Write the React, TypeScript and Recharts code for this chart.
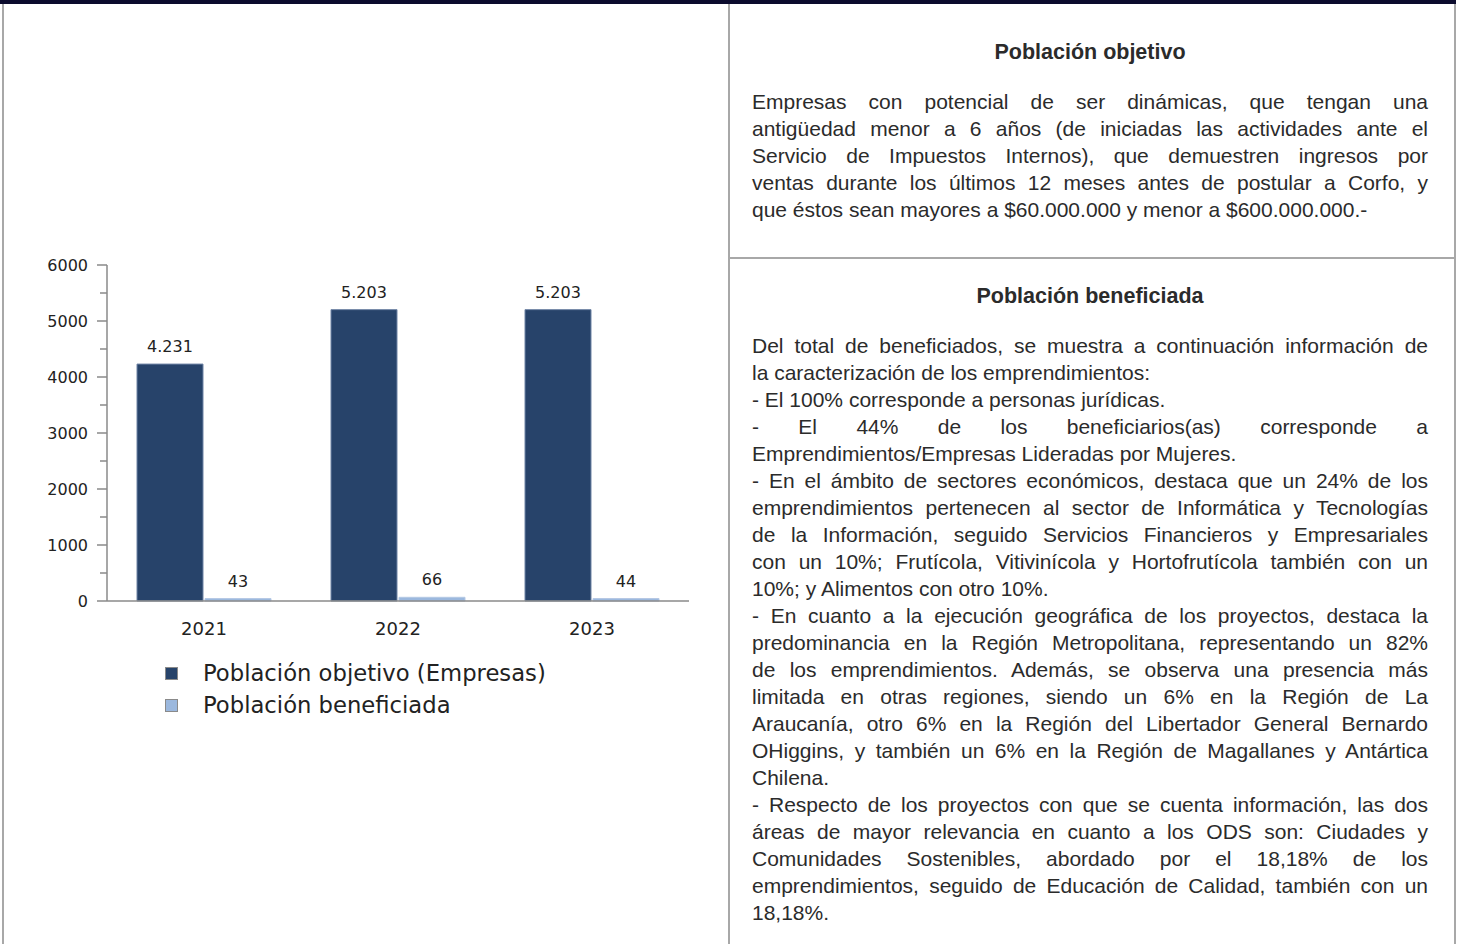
import { BarChart, Bar, XAxis, YAxis, LabelList } from "recharts";

// chart data
const years = ["2021", "2022", "2023"];
const objetivo = [4231, 5203, 5203];
const beneficiada = [43, 66, 44];
const yTicks = [0, 500, 1000, 1500, 2000, 2500, 3000, 3500, 4000, 4500, 5000, 5500, 6000];
const seriesNames = ["Población objetivo (Empresas)", "Población beneficiada"];
const seriesKeys = ["objetivo", "beneficiada"];
const seriesColors = ["#27436a", "#9bb8de"];

// right side text, one entry per line ([text, justified])
const titleObjetivo = "Población objetivo";
const linesObjetivo: [string, boolean][] = [
  ["Empresas con potencial de ser dinámicas, que tengan una", true],
  ["antigüedad menor a 6 años (de iniciadas las actividades ante el", true],
  ["Servicio de Impuestos Internos), que demuestren ingresos por", true],
  ["ventas durante los últimos 12 meses antes de postular a Corfo, y", true],
  ["que éstos sean mayores a $60.000.000 y menor a $600.000.000.-", false],
];
const titleBeneficiada = "Población beneficiada";
const linesBeneficiada: [string, boolean][] = [
  ["Del total de beneficiados, se muestra a continuación información de", true],
  ["la caracterización de los emprendimientos:", false],
  ["- El 100% corresponde a personas jurídicas.", false],
  ["- El 44% de los beneficiarios(as) corresponde a", true],
  ["Emprendimientos/Empresas Lideradas por Mujeres.", false],
  ["- En el ámbito de sectores económicos, destaca que un 24% de los", true],
  ["emprendimientos pertenecen al sector de Informática y Tecnologías", true],
  ["de la Información, seguido Servicios Financieros y Empresariales", true],
  ["con un 10%; Frutícola, Vitivinícola y Hortofrutícola también con un", true],
  ["10%; y Alimentos con otro 10%.", false],
  ["- En cuanto a la ejecución geográfica de los proyectos, destaca la", true],
  ["predominancia en la Región Metropolitana, representando un 82%", true],
  ["de los emprendimientos. Además, se observa una presencia más", true],
  ["limitada en otras regiones, siendo un 6% en la Región de La", true],
  ["Araucanía, otro 6% en la Región del Libertador General Bernardo", true],
  ["OHiggins, y también un 6% en la Región de Magallanes y Antártica", true],
  ["Chilena.", false],
  ["- Respecto de los proyectos con que se cuenta información, las dos", true],
  ["áreas de mayor relevancia en cuanto a los ODS son: Ciudades y", true],
  ["Comunidades Sostenibles, abordado por el 18,18% de los", true],
  ["emprendimientos, seguido de Educación de Calidad, también con un", true],
  ["18,18%.", false],
];

const data = years.map((year, i) => ({ year, objetivo: objetivo[i], beneficiada: beneficiada[i] }));

const fmt = (v: any) => String(v).replace(/\B(?=(\d{3})+(?!\d))/g, ".");

const AXIS = "#8a8a8a";
const CHART_FONT = "DejaVu Sans";

const YTick = (props: any) => {
  const { x, y, payload } = props;
  const major = payload.value % 1000 === 0;
  const axisX = x + 19;
  return (
    <g>
      <line x1={axisX - (major ? 10 : 7)} x2={axisX} y1={y} y2={y} stroke={AXIS} strokeWidth={1.5} />
      {major && (
        <text x={x} y={y} dy="0.36em" textAnchor="end" fontSize={16} fill="#222" fontFamily={CHART_FONT}>
          {payload.value}
        </text>
      )}
    </g>
  );
};

const TextBlock = ({ title, lines, top }: { title: string; lines: [string, boolean][]; top: number }) => (
  <div style={{ position: "absolute", left: 752, top, width: 676, color: "#2b2b2b", fontFamily: "'Liberation Sans', Arial, sans-serif", fontSize: 21, lineHeight: "27px" }}>
    <div style={{ textAlign: "center", fontWeight: "bold", fontSize: 21.5 }}>{title}</div>
    <div style={{ height: 22 }} />
    {lines.map(([t, j], i) => (
      <div key={i} style={{ textAlign: j ? "justify" : "left", textAlignLast: j ? "justify" : "left", whiteSpace: "nowrap" }}>
        {t}
      </div>
    ))}
  </div>
);

export default function App() {
  return (
    <div style={{ position: "absolute", left: 0, top: 0, width: 1462, height: 944, overflow: "hidden", background: "#fff" }}>
      {/* frame */}
      <div style={{ position: "absolute", left: 0, top: 0, width: 1456, height: 4, background: "#0b0b2d" }} />
      <div style={{ position: "absolute", left: 2, top: 4, width: 2, height: 940, background: "#a8a8a8" }} />
      <div style={{ position: "absolute", left: 728, top: 4, width: 2, height: 940, background: "#a8a8a8" }} />
      <div style={{ position: "absolute", left: 1454, top: 4, width: 2, height: 940, background: "#a8a8a8" }} />
      <div style={{ position: "absolute", left: 728, top: 257, width: 728, height: 2, background: "#a8a8a8" }} />

      <div style={{ position: "absolute", left: 0, top: 0 }}>
        <BarChart width={700} height={641} data={data} margin={{ top: 265, right: 11, left: 0, bottom: 0 }} barSize={66} barGap={2}>
          <XAxis
            dataKey="year"
            height={40}
            tickLine={false}
            tickSize={0}
            tickMargin={21}
            axisLine={{ stroke: AXIS, strokeWidth: 1.5 }}
            tick={{ fontSize: 18, fill: "#222", fontFamily: CHART_FONT }}
          />
          <YAxis
            width={107}
            domain={[0, 6000]}
            ticks={yTicks}
            interval={0}
            tickLine={false}
            tickSize={10}
            tickMargin={9}
            axisLine={{ stroke: AXIS, strokeWidth: 1.5 }}
            tick={<YTick />}
          />
          {seriesKeys.map((k, i) => (
            <Bar key={k} dataKey={k} name={seriesNames[i]} fill={seriesColors[i]} stroke={i === 0 ? "#6f84a5" : "#b5c8e4"} strokeWidth={1} isAnimationActive={false}>
              <LabelList dataKey={k} position="top" offset={12} formatter={fmt} fill="#222" fontSize={16} fontFamily={CHART_FONT} />
            </Bar>
          ))}
        </BarChart>
      </div>

      {/* legend */}
      <div style={{ position: "absolute", left: 165, top: 657, fontFamily: CHART_FONT, fontSize: 22.7, color: "#222" }}>
        {seriesNames.map((n, i) => (
          <div key={n} style={{ display: "flex", alignItems: "center", height: 32 }}>
            <span style={{ width: 11, height: 11, background: seriesColors[i], border: "1px solid #8a8a8a", marginRight: 25 }} />
            <span>{n}</span>
          </div>
        ))}
      </div>

      <TextBlock title={titleObjetivo} lines={linesObjetivo} top={39} />
      <TextBlock title={titleBeneficiada} lines={linesBeneficiada} top={283} />
    </div>
  );
}
